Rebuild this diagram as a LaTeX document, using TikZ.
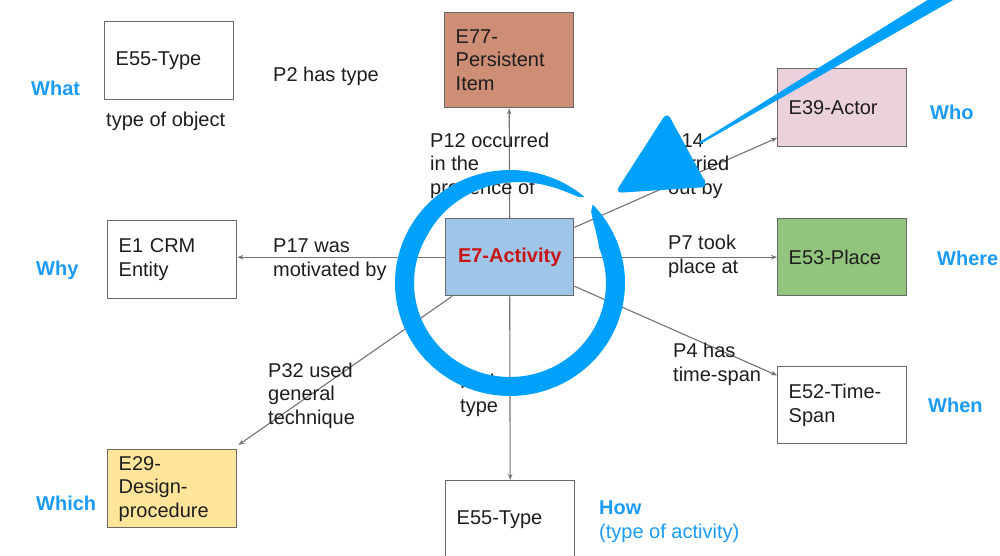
\documentclass[tikz,border=0pt]{standalone}
\usepackage{fontspec}
\setmainfont{Liberation Sans}
\usetikzlibrary{arrows.meta,calc}
\definecolor{boxgray}{RGB}{105,105,105}
\definecolor{linegray}{RGB}{115,115,115}
\definecolor{txt}{RGB}{30,30,30}
\definecolor{qblue}{RGB}{28,155,245}
\definecolor{brush}{RGB}{0,161,250}
\definecolor{actred}{RGB}{200,20,20}
\definecolor{cBrown}{RGB}{205,142,117}
\definecolor{cPink}{RGB}{234,209,220}
\definecolor{cBlue}{RGB}{159,197,232}
\definecolor{cGreen}{RGB}{147,196,125}
\definecolor{cYellow}{RGB}{255,229,153}
\begin{document}
\begin{tikzpicture}[x=1pt,y=-1pt,
  font=\fontsize{20}{23.5}\selectfont,
  box/.style={draw=boxgray, line width=1.4pt, text=txt, text width=107pt, align=left,
    inner xsep=11pt, inner ysep=0pt, minimum height=78pt, anchor=north west},
  conn/.style={draw=linegray, line width=1.1pt, -{Stealth[length=6pt,width=4.5pt]}},
  lbl/.style={anchor=base west, inner sep=0pt, align=left, text=txt},
  q/.style={anchor=base west, inner sep=0pt, align=left, text=qblue,
    font=\fontsize{20}{23.5}\selectfont\bfseries},
  declare function={bw(\t)=19*min(1,sqrt(max(0,(44-\t)/22)))*min(1,0.06+0.94*sqrt(max(0,(\t+310)/100)));}
]
\useasboundingbox (0,0) rectangle (1000,556);
\clip (0,0) rectangle (1000,556);
\fill[white] (0,0) rectangle (1000,556);

% boxes
\node[box] (typeA) at (104,21) {E55-Type};
\node[box, fill=cBrown, minimum height=95pt] (pitem) at (444,12) {E77-\\Persistent\\Item};
\node[box, fill=cPink] (actor) at (777,68) {E39-Actor};
\node[box] (crm) at (107,220) {E1 CRM\\Entity};
\node[box, fill=cBlue, align=center, text width=106pt, minimum height=77pt,
  text=actred, font=\fontsize{20}{23.5}\selectfont\bfseries] (act) at (445,218) {E7-Activity};
\node[box, fill=cGreen, minimum height=77pt] (place) at (777,218) {E53-Place};
\node[box, minimum height=77pt] (span) at (777,366) {E52-Time-\\Span};
\node[box, fill=cYellow] (proc) at (107,449) {E29-\\Design-\\procedure};
\node[box] (typeB) at (445,480) {E55-Type};

% connectors
\draw[conn] (act.north) -- (pitem.south);
\draw[conn] (act.west) -- (act.west -| crm.east);
\draw[conn] (act.east) -- (place.west);
\draw[conn] ($(act.north east)!0.12!(act.south east)$) -- ($(actor.north west)!0.88!(actor.south west)$);
\draw[conn] ($(act.north east)!0.87!(act.south east)$) -- ($(span.north west)!0.12!(span.south west)$);
\draw[conn] ($(act.south west)+(7,0)$) -- ($(proc.north east)+(1,-4)$);
\draw[conn] (act.south) -- (typeB.north);

% property labels (positions are the baseline of the last line)
\node[lbl] (lp2) at (273,82) {P2 has type};
\node[lbl] (lobj) at (106,127) {type of object};
\node[lbl] (lp12) at (430,194) {P12 occurred\\in the\\presence of};
\node[lbl] (lp14) at (668,194) {P14\\carried\\out by};
\node[lbl] (lp17) at (273,276) {P17 was\\motivated by};
\node[lbl] (lp7) at (668,273) {P7 took\\place at};
\node[lbl] (lp4) at (673,381) {P4 has\\time-span};
\node[lbl] (lp32) at (268,424) {P32 used\\general\\technique};
\node[lbl] (lp2b) at (460,412) {P2 has\\type};

% question labels
\node[q] (qwhat) at (31,96) {What};
\node[q] (qwho) at (930,120) {Who};
\node[q] (qwhy) at (36,275) {Why};
\node[q] (qwhere) at (937,265) {Where};
\node[q] (qwhen) at (928,412) {When};
\node[q] (qwhich) at (36,510) {Which};
\node[anchor=base west, inner sep=0pt, align=left, text=qblue] (qhow) at (599,538) {\textbf{How}\\(type of activity)};

% brush circle
\fill[brush] plot[domain=44:-310, samples=180] ({510+115*cos(\x)},{283-113*sin(\x)})
  -- plot[domain=-310:44, samples=180] ({510+(115-bw(\x))*cos(\x)},{283-(113-bw(\x))*sin(\x)}) -- cycle;

% brush arrow
\fill[brush] (699.5,142.1) -- (956.4,-18) -- (963.6,-6) -- (700.5,143.9) -- cycle;
\fill[brush, rounded corners=7pt] (667,112) -- (708,187) -- (615,193) -- cycle;
\end{tikzpicture}
\end{document}
